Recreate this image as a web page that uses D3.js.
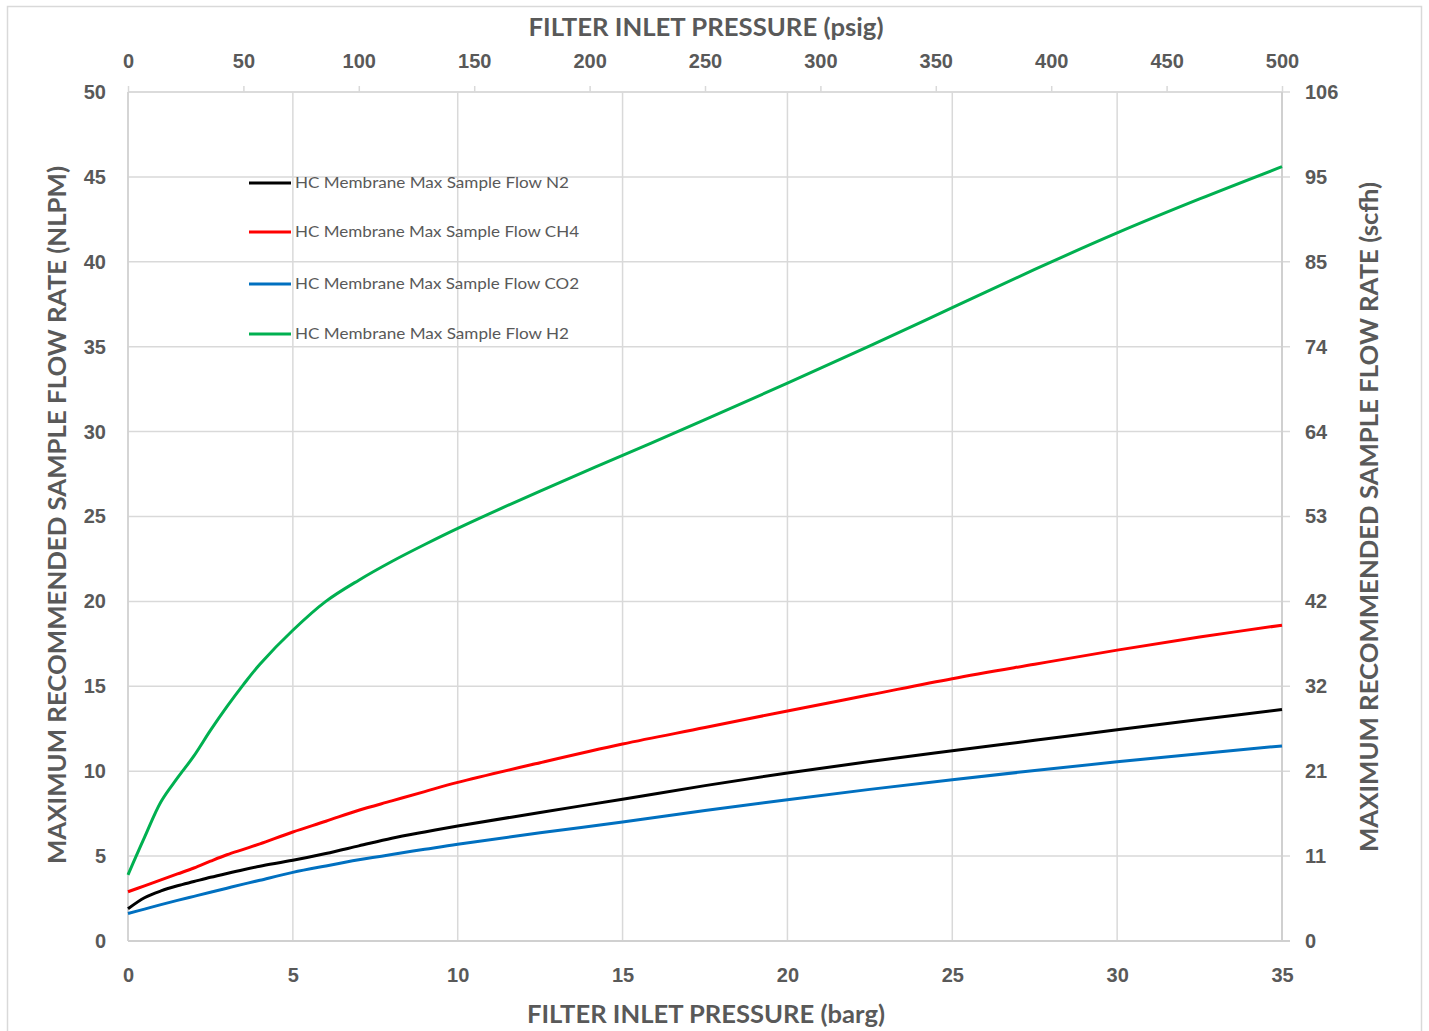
<!DOCTYPE html>
<html>
<head>
<meta charset="utf-8">
<script src="https://cdn.jsdelivr.net/npm/d3@7"></script>
<style>
  html, body { margin: 0; padding: 0; background: #fff; }
  svg { display: block; font-family: Lato, "Open Sans", sans-serif; }
</style>
</head>
<body>
<svg id="chart" width="1429" height="1031"></svg>
<script>
// Filter inlet pressure (barg) sample points shared by every series
const pressureBarg = [0, 0.5, 1, 1.5, 2, 2.5, 3, 3.5, 4, 5, 6, 7, 8, 9, 10, 12.5, 15, 17.5, 20, 22.5, 25, 27.5, 30, 32.5, 35];

// Maximum recommended sample flow (NLPM) per gas
const flowN2  = [1.9, 2.55, 2.95, 3.25, 3.5, 3.75, 3.98, 4.2, 4.4, 4.75, 5.15, 5.6, 6.05, 6.42, 6.77, 7.57, 8.35, 9.15, 9.9, 10.57, 11.2, 11.82, 12.44, 13.04, 13.63];
const flowCH4 = [2.9, 3.25, 3.6, 3.95, 4.3, 4.7, 5.08, 5.4, 5.72, 6.42, 7.05, 7.7, 8.25, 8.8, 9.34, 10.5, 11.6, 12.57, 13.55, 14.5, 15.45, 16.3, 17.13, 17.9, 18.6];
const flowCO2 = [1.62, 1.88, 2.14, 2.39, 2.63, 2.87, 3.11, 3.35, 3.58, 4.04, 4.42, 4.78, 5.1, 5.4, 5.7, 6.37, 7.01, 7.68, 8.32, 8.93, 9.5, 10.04, 10.55, 11.03, 11.49];
const flowH2  = [3.9, 6.1, 8.2, 9.6, 10.9, 12.4, 13.8, 15.1, 16.3, 18.3, 20.0, 21.25, 22.35, 23.35, 24.3, 26.5, 28.6, 30.7, 32.85, 35.05, 37.3, 39.55, 41.7, 43.7, 45.6];

const seriesNames  = ["HC Membrane Max Sample Flow N2", "HC Membrane Max Sample Flow CH4", "HC Membrane Max Sample Flow CO2", "HC Membrane Max Sample Flow H2"];
const seriesColors = ["#000000", "#ff0000", "#0070c0", "#00b050"];
const seriesValues = [flowN2, flowCH4, flowCO2, flowH2];

// Axis ticks
const bargTicks = [0, 5, 10, 15, 20, 25, 30, 35];
const psigTicks = [0, 50, 100, 150, 200, 250, 300, 350, 400, 450, 500];
const nlpmTicks = [0, 5, 10, 15, 20, 25, 30, 35, 40, 45, 50];
const scfhMax = 106;

const svg = d3.select("#chart");
const plot = { left: 128, right: 1282, top: 92, bottom: 941 };
const textColor = "#595959";
const gridColor = "#d9d9d9";

// outer chart frame
svg.append("rect")
  .attr("x", 7.5).attr("y", 6.5).attr("width", 1414).attr("height", 1040)
  .attr("fill", "#fff").attr("stroke", "#d9d9d9").attr("stroke-width", 1.5);

const x = d3.scaleLinear().domain([0, 35]).range([plot.left, plot.right]);
const xTop = d3.scaleLinear().domain([0, 500]).range([plot.left, plot.right]);
const y = d3.scaleLinear().domain([0, 50]).range([plot.bottom, plot.top]);
const yRight = d3.scaleLinear().domain([0, scfhMax]).range([plot.bottom, plot.top]);

// gridlines
const grid = svg.append("g");
grid.selectAll("line.h").data(nlpmTicks).join("line")
  .attr("x1", plot.left).attr("x2", plot.right + 8)
  .attr("y1", d => y(d)).attr("y2", d => y(d))
  .attr("stroke", gridColor).attr("stroke-width", 1.5);
grid.selectAll("line.v").data(bargTicks).join("line")
  .attr("x1", d => x(d)).attr("x2", d => x(d))
  .attr("y1", plot.top).attr("y2", plot.bottom)
  .attr("stroke", gridColor).attr("stroke-width", 1.5);

function styleAxis(g, size) {
  g.select(".domain").remove();
  g.selectAll(".tick line").attr("stroke", gridColor).attr("stroke-width", 1.5);
  g.selectAll(".tick text")
    .attr("fill", textColor)
    .attr("font-size", size)
    .attr("font-weight", "bold");
}

// bottom axis (barg)
svg.append("g")
  .attr("transform", `translate(0,${plot.bottom})`)
  .call(d3.axisBottom(x).tickValues(bargTicks).tickSize(0).tickPadding(27))
  .call(g => styleAxis(g, 20));

// top axis (psig)
svg.append("g")
  .attr("transform", `translate(0,${plot.top})`)
  .call(d3.axisTop(xTop).tickValues(psigTicks).tickSize(6).tickPadding(18))
  .call(g => styleAxis(g, 20));
svg.append("line")
  .attr("x1", plot.left).attr("x2", plot.right)
  .attr("y1", plot.top).attr("y2", plot.top)
  .attr("stroke", gridColor).attr("stroke-width", 1.5);

// left axis (NLPM)
svg.append("g")
  .attr("transform", `translate(${plot.left},0)`)
  .call(d3.axisLeft(y).tickValues(nlpmTicks).tickSize(0).tickPadding(22))
  .call(g => styleAxis(g, 20));

// right axis (scfh), ticks aligned with the left gridlines
svg.append("g")
  .attr("transform", `translate(${plot.right},0)`)
  .call(d3.axisRight(yRight)
    .tickValues(nlpmTicks.map(v => v / 50 * scfhMax))
    .tickFormat(d3.format(".0f"))
    .tickSize(0).tickPadding(23))
  .call(g => styleAxis(g, 20));

// axis frame lines
svg.append("line")
  .attr("x1", plot.left).attr("x2", plot.left)
  .attr("y1", plot.top).attr("y2", plot.bottom)
  .attr("stroke", "#d0d0d0").attr("stroke-width", 1.5);
svg.append("line")
  .attr("x1", plot.right).attr("x2", plot.right)
  .attr("y1", plot.top).attr("y2", plot.bottom)
  .attr("stroke", "#d0d0d0").attr("stroke-width", 2);
svg.append("line")
  .attr("x1", plot.left).attr("x2", plot.right + 8)
  .attr("y1", plot.bottom).attr("y2", plot.bottom)
  .attr("stroke", "#d0d0d0").attr("stroke-width", 2);

// axis titles
const titleStyle = sel => sel.attr("fill", textColor).attr("font-weight", "bold")
  .attr("font-size", 24).attr("text-anchor", "middle")
  .attr("lengthAdjust", "spacingAndGlyphs");
svg.append("text").attr("x", 706).attr("y", 36)
  .text("FILTER INLET PRESSURE (psig)").call(titleStyle).attr("textLength", 355);
svg.append("text").attr("x", 706).attr("y", 1023)
  .text("FILTER INLET PRESSURE (barg)").call(titleStyle).attr("textLength", 358);
svg.append("text")
  .attr("transform", "translate(66,515) rotate(-90)")
  .text("MAXIMUM RECOMMENDED SAMPLE FLOW RATE (NLPM)").call(titleStyle).attr("textLength", 698);
svg.append("text")
  .attr("transform", "translate(1378,517) rotate(-90)")
  .text("MAXIMUM RECOMMENDED SAMPLE FLOW RATE (scfh)").call(titleStyle).attr("textLength", 670);

// series lines, smoothed
const line = d3.line()
  .x((d, i) => x(pressureBarg[i]))
  .y(d => y(d))
  .curve(d3.curveCatmullRom.alpha(0.5));

svg.append("g").selectAll("path")
  .data(seriesValues)
  .join("path")
  .attr("d", d => line(d))
  .attr("fill", "none")
  .attr("stroke", (d, i) => seriesColors[i])
  .attr("stroke-width", 3)
  .attr("stroke-linejoin", "round");

// legend
const legendY = [183, 232, 284, 334];
const legend = svg.append("g").selectAll("g")
  .data(seriesNames)
  .join("g")
  .attr("transform", (d, i) => `translate(249,${legendY[i]})`);
legend.append("line")
  .attr("x1", 0).attr("x2", 42)
  .attr("stroke", (d, i) => seriesColors[i])
  .attr("stroke-width", 3);
legend.append("text")
  .attr("x", 46).attr("y", 5)
  .attr("fill", textColor)
  .attr("font-size", 15)
  .attr("lengthAdjust", "spacingAndGlyphs")
  .attr("textLength", (d, i) => i === 0 ? 274 : (i === 3 ? 274 : 284))
  .text(d => d);
</script>
</body>
</html>
